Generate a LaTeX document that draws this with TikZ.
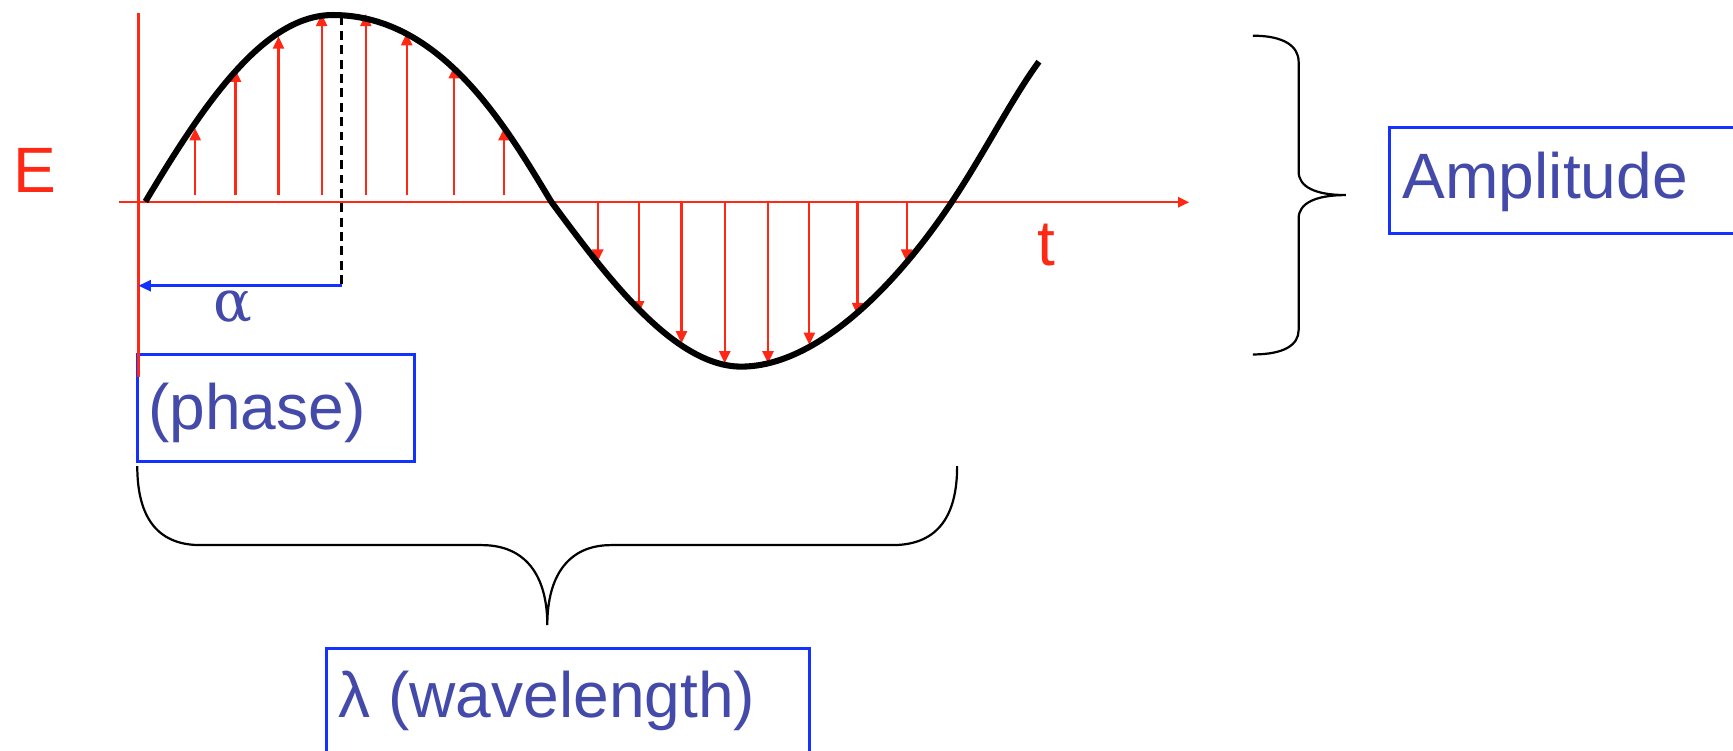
\documentclass[tikz,border=0pt]{standalone}
\usepackage{fontspec}
\setmainfont{Liberation Sans}
\newfontfamily\greekserif{DejaVu Serif}
\usetikzlibrary{arrows.meta}
\definecolor{ered}{RGB}{255,40,20}
\definecolor{tblue}{RGB}{68,74,170}
\definecolor{bblue}{RGB}{20,50,255}
\begin{document}
\begin{tikzpicture}[x=1pt,y=-1pt,
  big/.style={font=\fontsize{58}{60}\selectfont, inner sep=0pt, anchor=base west},
  frame/.style={draw=bblue, line width=2.4pt, anchor=north west, inner sep=0pt, outer sep=0pt},
  brace/.style={draw=black, line width=2pt},
  axis/.style={draw=ered, line width=2.2pt},
  vec/.style={draw=ered, line width=2pt, -{Triangle[width=10pt,length=11pt]}},
]
\useasboundingbox (0,0) rectangle (1568,679);
\clip (0,0) rectangle (1568,679);

% frames
\node[frame, minimum width=251pt, minimum height=97.2pt] (phasebox) at (124.2,320.6) {};
\node[frame, minimum width=400pt, minimum height=96pt] (ampbox) at (1257,115.2) {};
\node[frame, minimum width=436.8pt, minimum height=150pt] (wavebox) at (295.6,586.7) {};

% labels
\node[big, text=ered] (E) at (12,174) {E};
\node[big, text=ered] (t) at (938.6,239.8) {t};
\node[big, text=tblue] (amp) at (1269,180) {Amplitude};
\node[big, text=tblue] (phase) at (134,389) {(phase)};
\node[big, text=tblue] (wave) at (306,649) {λ (wavelength)};
\node[font=\greekserif\fontsize{52}{56}\selectfont, text=tblue, inner sep=0pt, anchor=base] (alpha) at (211,291) {α};

% axes
\coordinate (xs) at (108,183);
\coordinate (xe) at (1076,183);
\coordinate (ys) at (125.4,12);
\coordinate (ye) at (125.4,341);
\draw[axis, -{Triangle[width=9pt,length=10pt]}] (xs) -- (xe);
\draw[axis] (ys) -- (ye);

% field vectors
\foreach \x/\y in {176.6/116, 213/63, 252/33, 291/12.7, 331/12.7, 368/30, 411/60, 456/116}
  \draw[vec] (\x,176) -- (\x,\y);
\foreach \x/\y in {540.8/236.7, 577.8/283.5, 616.6/310.6, 655.7/328.7, 694.9/328.7, 732.3/312, 775.9/285, 820.3/236.7}
  \draw[vec] (\x,184) -- (\x,\y);

% wave
\coordinate (w0) at (131.6,182.4);
\coordinate (w1) at (301.2,13.6);
\coordinate (w2) at (498.8,182.6);
\coordinate (w3) at (670.6,331.7);
\coordinate (w4) at (861,183);
\coordinate (w5) at (940,55.8);
\draw[line width=5.5pt] (w0) .. controls (186.6,90) and (240,13.6) .. (w1)
  .. controls (400,13.6) and (458.8,116.6) .. (w2)
  .. controls (546.8,247.4) and (608.8,331.7) .. (w3)
  .. controls (739.1,331.7) and (811,258) .. (w4)
  .. controls (891,138) and (915,90) .. (w5);

% phase marker
\coordinate (peak) at (309,15);
\coordinate (alphaend) at (309,258.5);
\coordinate (alphastart) at (125.4,258.5);
\draw[black, line width=2pt, dash pattern=on 8pt off 5pt] (peak) -- (alphaend);
\draw[bblue, line width=2.2pt, -{Triangle[width=10pt,length=11pt]}] (alphaend) -- (alphastart);

% braces
\draw[brace] (1133.6,32.3) .. controls (1162,32.3) and (1175,42) .. (1175,56) -- (1175,155.4)
  .. controls (1175,169) and (1190,176.5) .. (1217.6,176.5)
  .. controls (1190,176.5) and (1175,184) .. (1175,197.6) -- (1175,298.6)
  .. controls (1175,312) and (1162,320.7) .. (1133.6,320.7);
\draw[brace] (124.2,421.7) .. controls (124.2,465) and (140,493.2) .. (181.4,493.2) -- (435.9,493.2)
  .. controls (475,493.2) and (495.2,520) .. (495.2,565.6)
  .. controls (495.2,520) and (515,493.2) .. (552.8,493.2) -- (807.4,493.2)
  .. controls (850,493.2) and (866,465) .. (866,421.7);
\end{tikzpicture}
\end{document}
